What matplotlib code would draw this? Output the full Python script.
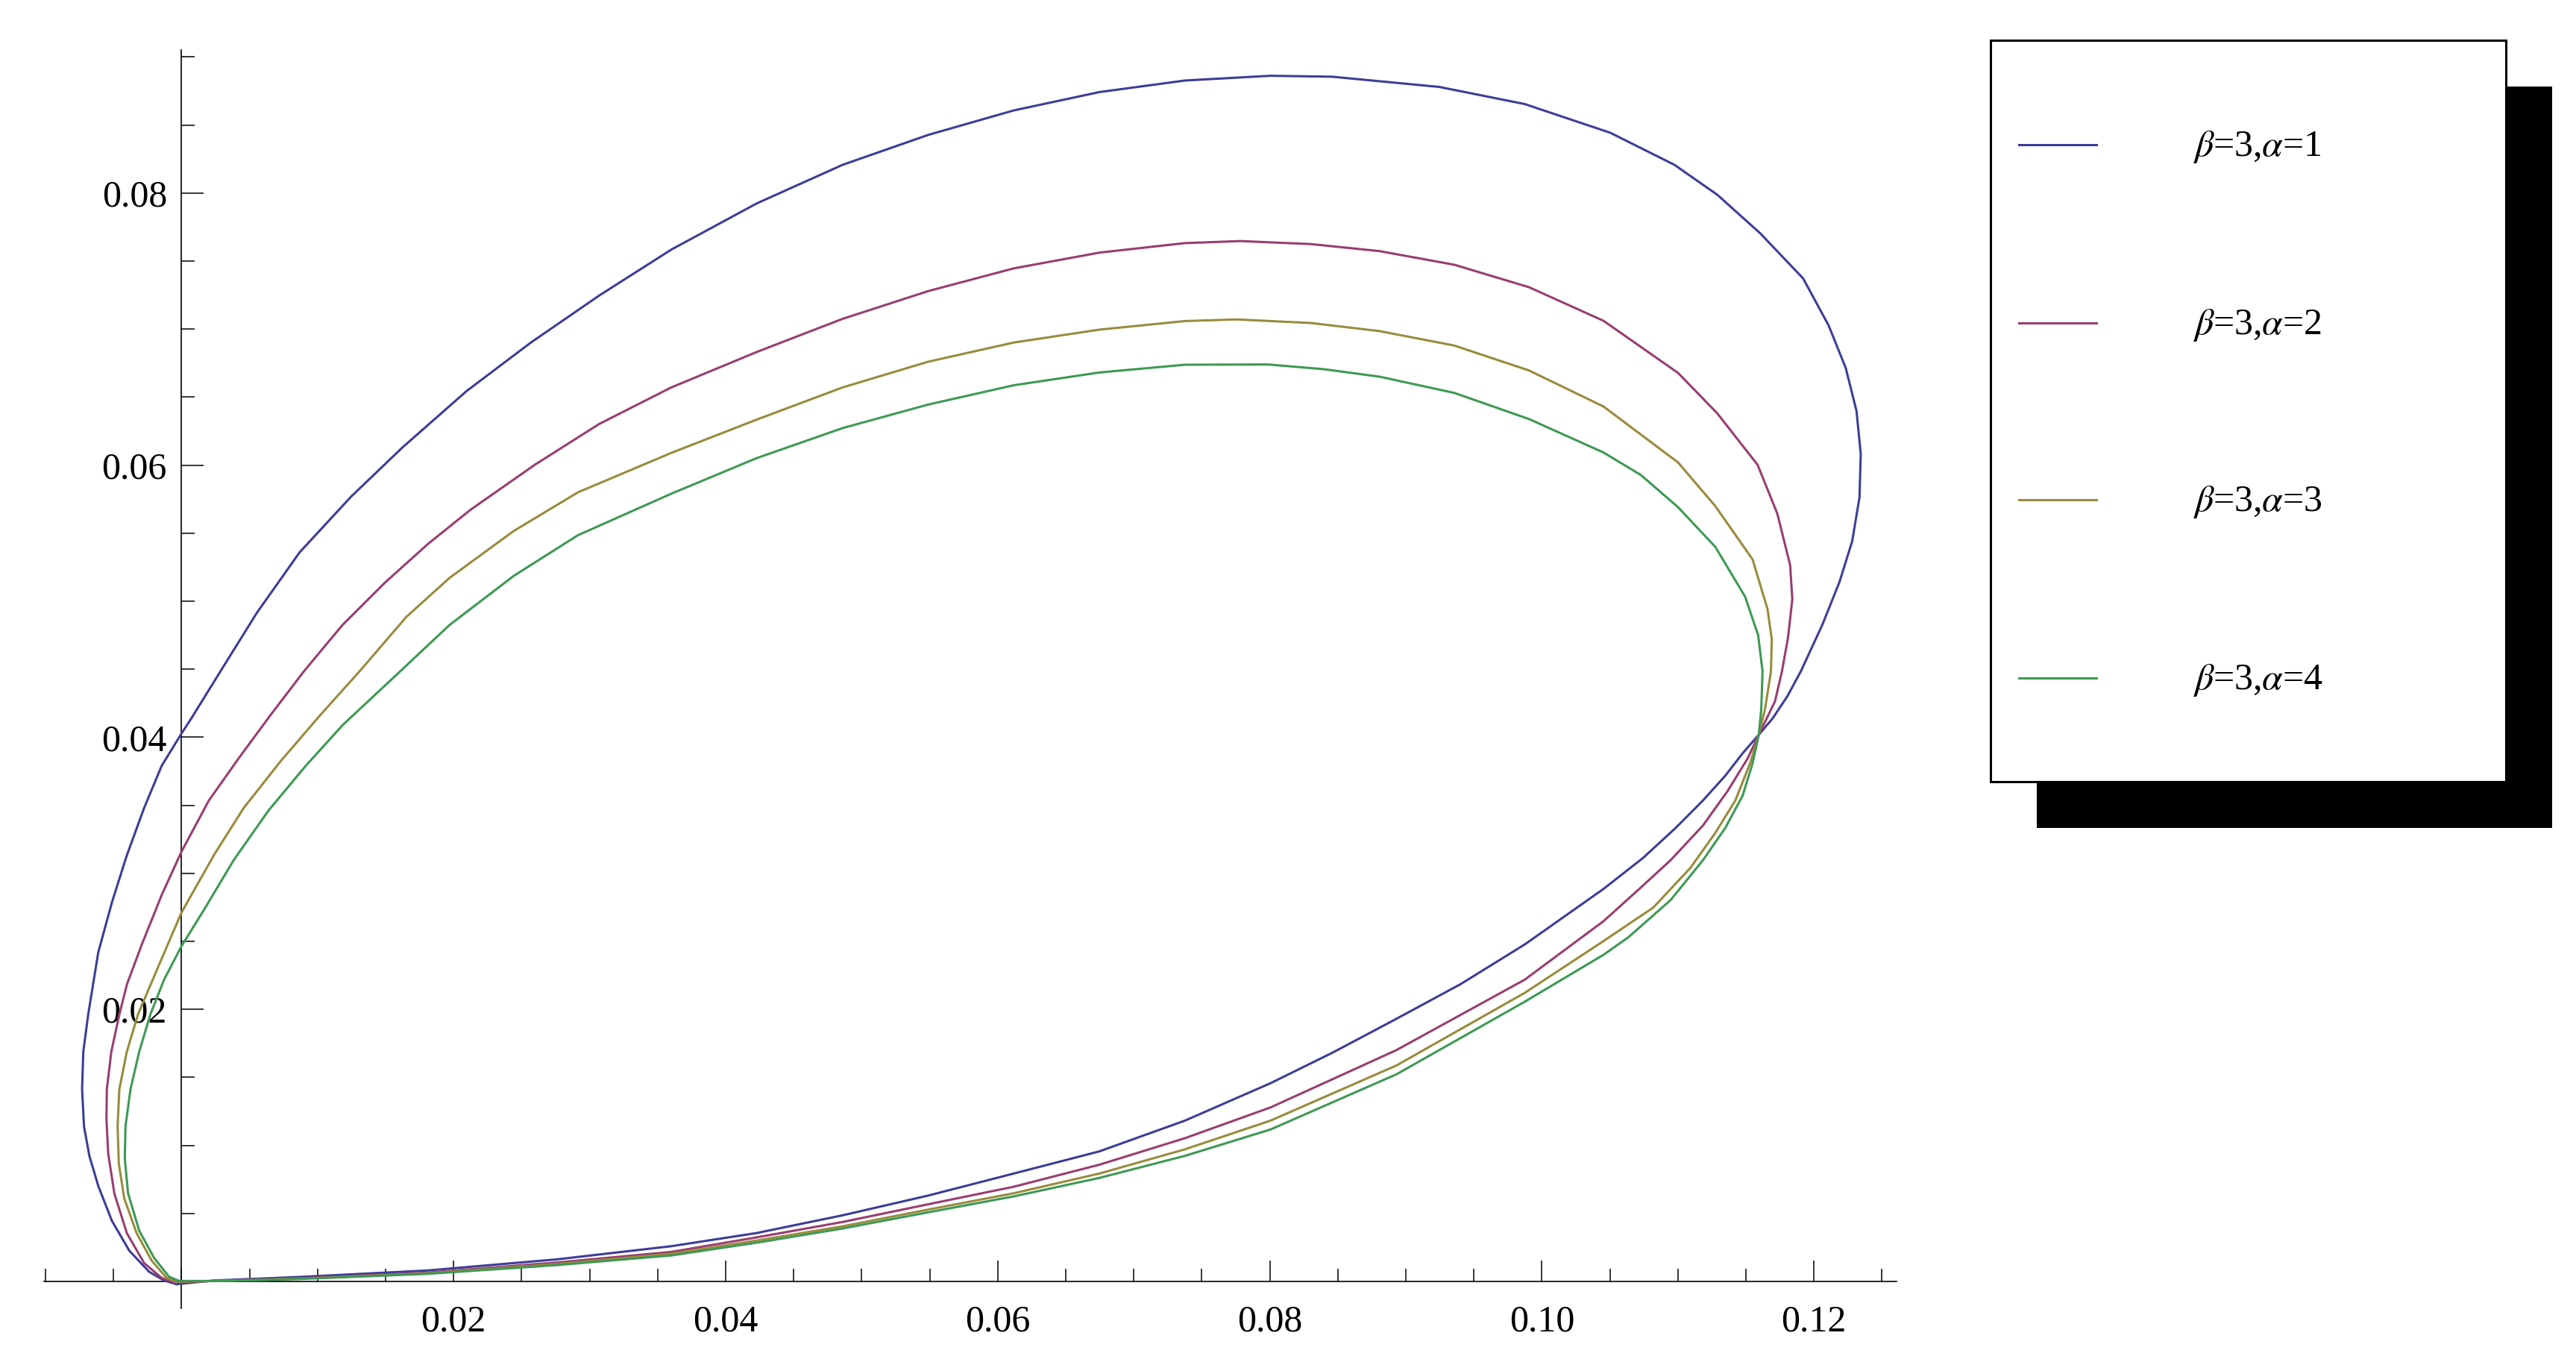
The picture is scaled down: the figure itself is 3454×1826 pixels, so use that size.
import numpy as np
import matplotlib
matplotlib.use("Agg")
import matplotlib.pyplot as plt
from matplotlib.patches import Rectangle
from matplotlib.ticker import FixedLocator, FormatStrFormatter

plt.rcParams['font.family'] = ['Liberation Serif', 'DejaVu Serif']
plt.rcParams['mathtext.fontset'] = 'stix'

# curve points (x, y), one closed loop per alpha
curve_a1 = [(-0.00037, -0.00020), (-0.00128, 0.00007), (-0.00238, 0.00071), (-0.00384, 0.00226),
            (-0.00512, 0.00446), (-0.00612, 0.00702), (-0.00677, 0.00921), (-0.00717, 0.01140),
            (-0.00731, 0.01414), (-0.00722, 0.01689), (-0.00686, 0.01963), (-0.00612, 0.02419),
            (-0.00512, 0.02785), (-0.00402, 0.03132), (-0.00275, 0.03480), (-0.00146, 0.03790),
            (0.00000, 0.04028), (0.00073, 0.04140), (0.00277, 0.04470), (0.00554, 0.04915),
            (0.00868, 0.05359), (0.01246, 0.05768), (0.01624, 0.06130), (0.02096, 0.06545),
            (0.02568, 0.06901), (0.03071, 0.07247), (0.03600, 0.07584), (0.04229, 0.07924),
            (0.04859, 0.08207), (0.05488, 0.08427), (0.06117, 0.08607), (0.06747, 0.08742),
            (0.07376, 0.08827), (0.08005, 0.08862), (0.08458, 0.08855), (0.09245, 0.08780),
            (0.09874, 0.08654), (0.10503, 0.08443), (0.10975, 0.08207), (0.11290, 0.07987),
            (0.11605, 0.07704), (0.11920, 0.07373), (0.12108, 0.07027), (0.12234, 0.06713),
            (0.12313, 0.06398), (0.12344, 0.06083), (0.12335, 0.05764), (0.12281, 0.05440),
            (0.12187, 0.05139), (0.12061, 0.04825), (0.11904, 0.04485), (0.11805, 0.04302),
            (0.11696, 0.04138), (0.11595, 0.04019), (0.11476, 0.03882), (0.11348, 0.03717),
            (0.11184, 0.03535), (0.10983, 0.03333), (0.10745, 0.03114), (0.10453, 0.02885),
            (0.09874, 0.02477), (0.09402, 0.02185), (0.08930, 0.01930), (0.08458, 0.01680),
            (0.08005, 0.01457), (0.07376, 0.01182), (0.06747, 0.00956), (0.06117, 0.00793),
            (0.05488, 0.00631), (0.04859, 0.00486), (0.04229, 0.00356), (0.03600, 0.00259),
            (0.02757, 0.00162), (0.01813, 0.00081), (0.00868, 0.00033), (0.00239, 0.00007),
            (-0.00037, -0.00020)]

curve_a2 = [(-0.00055, -0.00007), (-0.00146, 0.00026), (-0.00275, 0.00135), (-0.00402, 0.00355),
            (-0.00494, 0.00647), (-0.00539, 0.00939), (-0.00552, 0.01195), (-0.00549, 0.01414),
            (-0.00516, 0.01689), (-0.00457, 0.01963), (-0.00402, 0.02182), (-0.00293, 0.02474),
            (-0.00146, 0.02840), (0.00000, 0.03160), (0.00201, 0.03535), (0.00420, 0.03845),
            (0.00649, 0.04156), (0.00900, 0.04485), (0.01183, 0.04825), (0.01498, 0.05139),
            (0.01813, 0.05422), (0.02127, 0.05674), (0.02599, 0.06004), (0.03071, 0.06303),
            (0.03600, 0.06571), (0.04229, 0.06832), (0.04859, 0.07075), (0.05488, 0.07279),
            (0.06117, 0.07446), (0.06747, 0.07562), (0.07376, 0.07632), (0.07785, 0.07647),
            (0.08300, 0.07625), (0.08808, 0.07573), (0.09356, 0.07473), (0.09905, 0.07308),
            (0.10453, 0.07061), (0.11001, 0.06678), (0.11290, 0.06380), (0.11586, 0.06002),
            (0.11731, 0.05643), (0.11825, 0.05265), (0.11841, 0.05013), (0.11809, 0.04730),
            (0.11765, 0.04485), (0.11714, 0.04265), (0.11595, 0.04019), (0.11513, 0.03845),
            (0.11367, 0.03607), (0.11184, 0.03351), (0.10946, 0.03096), (0.10727, 0.02895),
            (0.10453, 0.02648), (0.09874, 0.02218), (0.08930, 0.01700), (0.08005, 0.01279),
            (0.07376, 0.01053), (0.06747, 0.00858), (0.06117, 0.00696), (0.05488, 0.00567),
            (0.04859, 0.00437), (0.04229, 0.00324), (0.03600, 0.00217), (0.02757, 0.00139),
            (0.01813, 0.00065), (0.00868, 0.00023), (0.00239, 0.00004), (-0.00055, -0.00007)]

curve_a3 = [(-0.00037, -0.00002), (-0.00110, 0.00026), (-0.00220, 0.00154), (-0.00330, 0.00355),
            (-0.00421, 0.00610), (-0.00461, 0.00866), (-0.00470, 0.01140), (-0.00457, 0.01414),
            (-0.00402, 0.01689), (-0.00320, 0.01963), (-0.00165, 0.02328), (0.00000, 0.02712),
            (0.00237, 0.03132), (0.00457, 0.03480), (0.00731, 0.03827), (0.01014, 0.04156),
            (0.01309, 0.04485), (0.01655, 0.04887), (0.01970, 0.05171), (0.02442, 0.05516),
            (0.02914, 0.05800), (0.03600, 0.06090), (0.04229, 0.06335), (0.04859, 0.06571),
            (0.05488, 0.06760), (0.06117, 0.06901), (0.06747, 0.06996), (0.07376, 0.07059),
            (0.07754, 0.07071), (0.08300, 0.07045), (0.08808, 0.06985), (0.09356, 0.06879),
            (0.09905, 0.06696), (0.10453, 0.06431), (0.11001, 0.06020), (0.11274, 0.05700),
            (0.11549, 0.05307), (0.11659, 0.04941), (0.11690, 0.04720), (0.11684, 0.04485),
            (0.11641, 0.04211), (0.11595, 0.04019), (0.11531, 0.03809), (0.11422, 0.03535),
            (0.11275, 0.03297), (0.11093, 0.03041), (0.10819, 0.02748), (0.10453, 0.02502),
            (0.09874, 0.02121), (0.08930, 0.01587), (0.08005, 0.01182), (0.07376, 0.00971),
            (0.06747, 0.00793), (0.06117, 0.00648), (0.05488, 0.00528), (0.04859, 0.00405),
            (0.04229, 0.00301), (0.03600, 0.00204), (0.02757, 0.00128), (0.01813, 0.00060),
            (0.00868, 0.00020), (0.00239, 0.00003), (-0.00037, -0.00002)]

curve_a4 = [(-0.00019, 0.00004), (-0.00092, 0.00035), (-0.00201, 0.00172), (-0.00311, 0.00373),
            (-0.00393, 0.00647), (-0.00417, 0.00903), (-0.00412, 0.01140), (-0.00375, 0.01414),
            (-0.00311, 0.01689), (-0.00229, 0.01963), (-0.00128, 0.02219), (0.00000, 0.02465),
            (0.00164, 0.02730), (0.00383, 0.03096), (0.00639, 0.03461), (0.00913, 0.03790),
            (0.01187, 0.04092), (0.01608, 0.04485), (0.01970, 0.04825), (0.02442, 0.05186),
            (0.02914, 0.05485), (0.03600, 0.05790), (0.04229, 0.06052), (0.04859, 0.06272),
            (0.05488, 0.06445), (0.06117, 0.06587), (0.06747, 0.06681), (0.07376, 0.06738),
            (0.07986, 0.06740), (0.08400, 0.06705), (0.08808, 0.06650), (0.09356, 0.06531),
            (0.09905, 0.06339), (0.10453, 0.06093), (0.10727, 0.05928), (0.11001, 0.05691),
            (0.11275, 0.05399), (0.11494, 0.05033), (0.11590, 0.04750), (0.11622, 0.04485),
            (0.11613, 0.04211), (0.11595, 0.04019), (0.11549, 0.03809), (0.11476, 0.03571),
            (0.11348, 0.03333), (0.11184, 0.03096), (0.10946, 0.02803), (0.10635, 0.02529),
            (0.10453, 0.02401), (0.09874, 0.02056), (0.08930, 0.01522), (0.08005, 0.01117),
            (0.07376, 0.00923), (0.06747, 0.00761), (0.06117, 0.00625), (0.05488, 0.00508),
            (0.04859, 0.00389), (0.04229, 0.00285), (0.03600, 0.00191), (0.02757, 0.00120),
            (0.01813, 0.00056), (0.00868, 0.00018), (0.00239, 0.00003), (-0.00019, 0.00004)]

beta = 3
alphas = [1, 2, 3, 4]
curves = [curve_a1, curve_a2, curve_a3, curve_a4]
colors = ['#3d3d99', '#993d71', '#998b3d', '#3d9954']

x_major = [0.02, 0.04, 0.06, 0.08, 0.10, 0.12]
y_major = [0.02, 0.04, 0.06, 0.08]
xlim = (-0.0101, 0.1261)
ylim = (-0.002, 0.0905)

# figure in pixels, equal scale on both axes
W, H = 3455, 1826
DPI = 200
scale = 18240.0           # pixels per data unit
x0_px, y0_px = 243.4, 1718.0

fig = plt.figure(figsize=(W / DPI, H / DPI), dpi=DPI)
left = x0_px + xlim[0] * scale
bottom = y0_px - ylim[0] * scale
ax = fig.add_axes([left / W, 1 - bottom / H,
                   (xlim[1] - xlim[0]) * scale / W, (ylim[1] - ylim[0]) * scale / H])

for pts, c in zip(curves, colors):
    xs, ys = zip(*pts)
    ax.plot(xs, ys, color=c, lw=1.1, zorder=3, solid_joinstyle='round')

ax.set_xlim(*xlim)
ax.set_ylim(*ylim)

ax.spines['left'].set_position(('data', 0))
ax.spines['bottom'].set_position(('data', 0))
ax.spines['top'].set_visible(False)
ax.spines['right'].set_visible(False)
for s in ('left', 'bottom'):
    ax.spines[s].set_linewidth(0.6)

ax.xaxis.set_major_locator(FixedLocator(x_major))
ax.yaxis.set_major_locator(FixedLocator(y_major))
ax.xaxis.set_minor_locator(FixedLocator(np.arange(-0.01, 0.1251, 0.005)))
ax.yaxis.set_minor_locator(FixedLocator(np.arange(0.005, 0.0901, 0.005)))
ax.xaxis.set_major_formatter(FormatStrFormatter('%.2f'))
ax.yaxis.set_major_formatter(FormatStrFormatter('%.2f'))

ax.tick_params(which='both', direction='in', width=0.55, colors='black')
ax.tick_params(axis='x', which='major', length=10.1, pad=11, labelsize=18)
ax.tick_params(axis='x', which='minor', length=6.0)
ax.tick_params(axis='y', which='major', length=10.8, pad=7, labelsize=18)
ax.tick_params(axis='y', which='minor', length=6.5)

# legend box with a solid drop shadow, laid out in figure pixels
lax = fig.add_axes([0, 0, 1, 1], zorder=5)
lax.set_xlim(0, W)
lax.set_ylim(H, 0)
lax.axis('off')
lax.add_patch(Rectangle((2731, 116), 691, 994, facecolor='black', edgecolor='none'))
lax.add_patch(Rectangle((2669, 54), 691, 994, facecolor='white', edgecolor='black', lw=1.1))
rows = [194, 433, 670, 909]
for a, c, yr in zip(alphas, colors, rows):
    lax.plot([2707, 2811], [yr, yr], color=c, lw=1.1)
    lax.text(2940, yr + 15, r'$\beta$=%d,$\alpha$=%d' % (beta, a),
             fontsize=18, ha='left', va='baseline')

fig.savefig('out.png', dpi=DPI)
